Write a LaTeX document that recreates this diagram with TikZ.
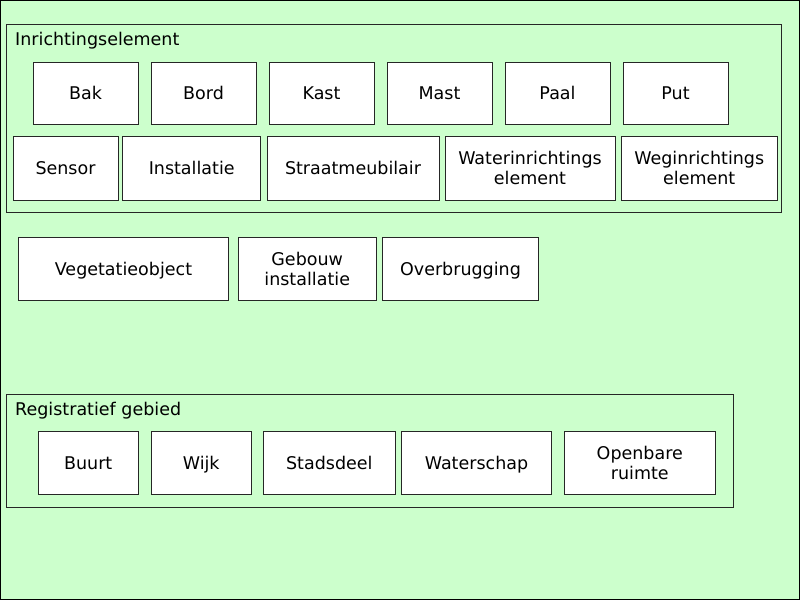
\documentclass[tikz,border=0pt]{standalone}
\usepackage{fontspec}
\setmainfont{DejaVu Sans}
\definecolor{bggreen}{HTML}{CCFFCC}
\begin{document}
\begin{tikzpicture}[x=1pt,y=-1pt,
  box/.style={draw=black!85,fill=white,line width=1pt,inner sep=0pt,outer sep=0pt,align=center,
    font=\fontsize{17.5}{20}\selectfont,text height=12.6pt,text depth=0pt},
  two/.style={text height=32.6pt,text depth=0pt},
  grp/.style={draw=black!85,line width=1pt},
  glabel/.style={anchor=base west,inner sep=0pt,font=\fontsize{17.5}{20}\selectfont}]
\useasboundingbox (0,0) rectangle (800,600);
\fill[bggreen] (0,0) rectangle (800,600);
\draw[black,line width=1pt] (0.5,0.5) rectangle (799.5,599.5);
% group 1
\draw[grp] (6.7,24) rectangle (781,212.3);
\node[glabel] (g1) at (15,45.3) {Inrichtingselement};
\node[box,minimum width=105,minimum height=62] (bak) at (85.5,93) {Bak};
\node[box,minimum width=105,minimum height=62] (bord) at (203.5,93) {Bord};
\node[box,minimum width=105,minimum height=62] (kast) at (321.5,93) {Kast};
\node[box,minimum width=105,minimum height=62] (mast) at (439.5,93) {Mast};
\node[box,minimum width=105,minimum height=62] (paal) at (557.5,93) {Paal};
\node[box,minimum width=105,minimum height=62] (put) at (675.5,93) {Put};
\node[box,minimum width=105,minimum height=63.5] (sensor) at (65.5,168.25) {Sensor};
\node[box,minimum width=138,minimum height=63.5] (inst) at (191.7,168.25) {Installatie};
\node[box,minimum width=172,minimum height=63.5] (straat) at (353,168.25) {Straatmeubilair};
\node[box,two,minimum width=170,minimum height=63.5] (water) at (530,168.25) {Waterinrichtings\\element};
\node[box,two,minimum width=156,minimum height=63.5] (weg) at (699.2,168.25) {Weginrichtings\\element};
% middle
\node[box,minimum width=210.4,minimum height=63] (veg) at (123.5,268.8) {Vegetatieobject};
\node[box,two,minimum width=137.7,minimum height=63] (geb) at (307.2,268.8) {Gebouw\\installatie};
\node[box,minimum width=155.6,minimum height=63] (over) at (460.5,268.8) {Overbrugging};
% group 2
\draw[grp] (6.7,394) rectangle (733.7,507);
\node[glabel] (g2) at (15,415) {Registratief gebied};
\node[box,minimum width=100.3,minimum height=63] (buurt) at (88.2,462.8) {Buurt};
\node[box,minimum width=100.3,minimum height=63] (wijk) at (201.2,462.8) {Wijk};
\node[box,minimum width=132,minimum height=63] (stad) at (329.3,462.8) {Stadsdeel};
\node[box,minimum width=150.4,minimum height=63] (wschap) at (476.5,462.8) {Waterschap};
\node[box,two,minimum width=151,minimum height=63] (open) at (639.8,462.8) {Openbare\\ruimte};
\end{tikzpicture}
\end{document}
